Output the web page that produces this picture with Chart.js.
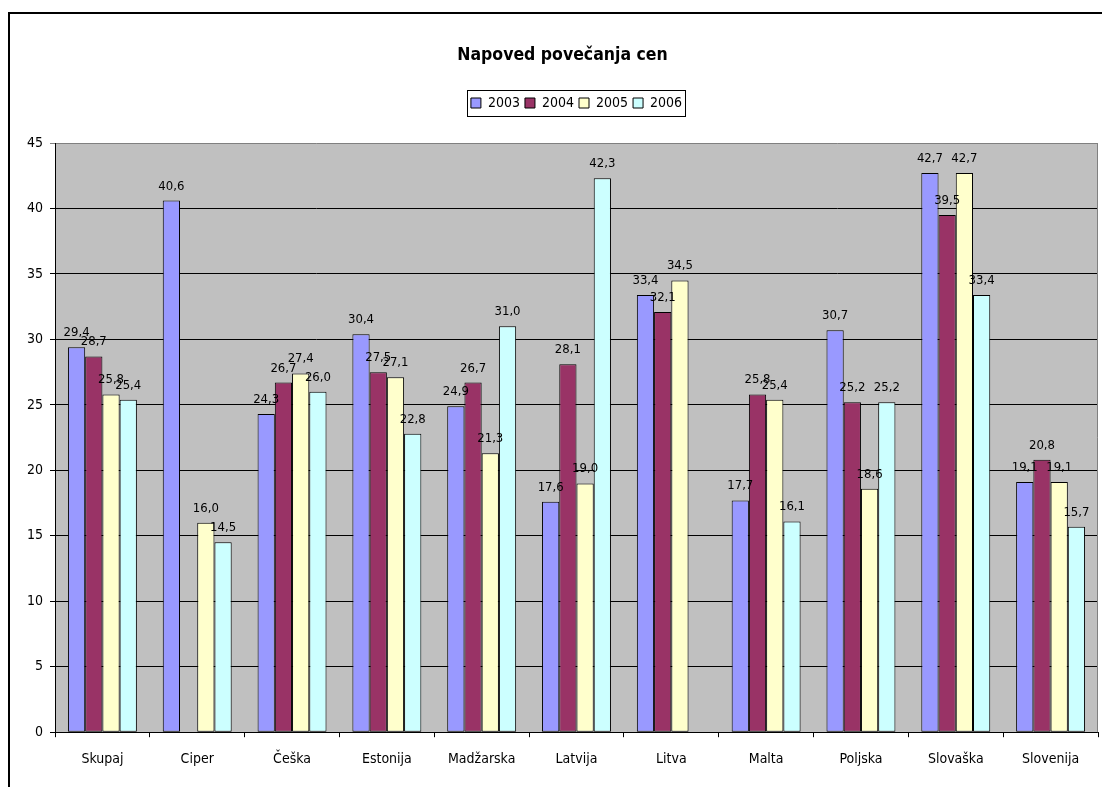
<!DOCTYPE html>
<html><head><meta charset="utf-8">
<script src="https://cdn.jsdelivr.net/npm/chart.js@4.4.1/dist/chart.umd.min.js"></script>
<style>html,body{margin:0;padding:0;background:#fff;overflow:hidden}#wrap{width:1102px;height:787px;position:relative}</style>
</head><body><div id="wrap"><canvas id="c" width="1102" height="787"></canvas></div>
<script>
const categories = ['Skupaj','Ciper','Češka','Estonija','Madžarska','Latvija','Litva','Malta','Poljska','Slovaška','Slovenija'];
const seriesNames = ['2003','2004','2005','2006'];
const values2003 = [29.4, 40.6, 24.3, 30.4, 24.9, 17.6, 33.4, 17.7, 30.7, 42.7, 19.1];
const values2004 = [28.7, null, 26.7, 27.5, 26.7, 28.1, 32.1, 25.8, 25.2, 39.5, 20.8];
const values2005 = [25.8, 16.0, 27.4, 27.1, 21.3, 19.0, 34.5, 25.4, 18.6, 42.7, 19.1];
const values2006 = [25.4, 14.5, 26.0, 22.8, 31.0, 42.3, null, 16.1, 25.2, 33.4, 15.7];
const yTickLabels = ['0','5','10','15','20','25','30','35','40','45'];
const titleText = 'Napoved povečanja cen';

const seriesValues = [values2003, values2004, values2005, values2006];
const seriesColors = ['#9999FF', '#993366', '#FFFFCC', '#CCFFFF'];
const FAMILY = '"DejaVu Sans Condensed", "DejaVu Sans", sans-serif';

const bgPlugin = {
  id: 'bgPlugin',
  beforeDraw(chart) {
    const ctx = chart.ctx, a = chart.chartArea;
    ctx.save();
    ctx.fillStyle = '#fff';
    ctx.fillRect(0, 0, chart.width, chart.height);
    ctx.fillStyle = '#000';
    ctx.fillRect(8, 12, 2, chart.height);
    ctx.fillRect(8, 12, chart.width, 2);
    ctx.fillStyle = '#C0C0C0';
    ctx.fillRect(a.left, a.top, a.right - a.left, a.bottom - a.top);
    ctx.restore();
  },
  beforeDatasetsDraw(chart) {
    const ctx = chart.ctx, a = chart.chartArea;
    ctx.save();
    ctx.strokeStyle = '#808080';
    ctx.lineWidth = 1;
    ctx.beginPath();
    ctx.moveTo(a.right - 0.5, a.top);
    ctx.lineTo(a.right - 0.5, a.bottom);
    ctx.stroke();
    ctx.restore();
  },
  afterDatasetsDraw(chart) {
    const ctx = chart.ctx;
    ctx.save();
    ctx.font = '13px ' + FAMILY;
    ctx.fillStyle = '#000';
    ctx.textAlign = 'center';
    ctx.textBaseline = 'alphabetic';
    chart.data.datasets.forEach((ds, i) => {
      const meta = chart.getDatasetMeta(i);
      meta.data.forEach((el, j) => {
        const v = ds.data[j];
        if (v === null || v === undefined) return;
        ctx.fillText(v.toFixed(1).replace('.', ','), el.x, el.y - 11);
      });
    });
    ctx.restore();
  },
  afterDraw(chart) {
    const lg = chart.legend;
    if (!lg || !lg.legendHitBoxes || !lg.legendHitBoxes.length) return;
    const hb = lg.legendHitBoxes;
    let l = Infinity, r = -Infinity, t = Infinity, b = -Infinity;
    hb.forEach(h => { l = Math.min(l, h.left); r = Math.max(r, h.left + h.width); t = Math.min(t, h.top); b = Math.max(b, h.top + h.height); });
    const ctx = chart.ctx;
    ctx.save();
    ctx.strokeStyle = '#000';
    ctx.lineWidth = 1;
    ctx.strokeRect(Math.round(l - 4) + 0.5, Math.round(t - 6) + 0.5, Math.round(r - l + 7), Math.round(b - t + 12));
    ctx.restore();
  }
};

new Chart(document.getElementById('c'), {
  type: 'bar',
  data: {
    labels: categories,
    datasets: seriesNames.map((n, i) => ({
      label: n,
      data: seriesValues[i],
      backgroundColor: seriesColors[i],
      borderColor: '#000',
      borderWidth: 1,
      borderSkipped: false,
      categoryPercentage: 0.727,
      barPercentage: 1.0
    }))
  },
  options: {
    responsive: false,
    animation: false,
    devicePixelRatio: 1,
    layout: { padding: { top: 0, left: 27, right: 4, bottom: 5 } },
    plugins: {
      tooltip: { enabled: false },
      title: {
        display: true,
        text: titleText,
        color: '#000',
        font: { family: FAMILY, size: 17.5, weight: 'bold', lineHeight: 1.2 },
        padding: { top: 45, bottom: 25 }
      },
      legend: {
        display: true,
        position: 'top',
        fullSize: false,
        labels: {
          color: '#000',
          font: { family: FAMILY, size: 14 },
          boxWidth: 10,
          boxHeight: 10,
          padding: 5
        }
      },
      subtitle: {
        display: true,
        text: '',
        weight: 500,
        font: { size: 1, lineHeight: 1 },
        padding: { top: 22, bottom: 0 }
      }
    },
    scales: {
      x: {
        grid: { display: true, drawOnChartArea: false, drawTicks: true, tickLength: 5, color: '#000', offset: true },
        border: { display: true, color: '#000', width: 1 },
        ticks: { color: '#000', font: { family: FAMILY, size: 14 }, padding: 14, maxRotation: 0, autoSkip: false }
      },
      y: {
        min: 0, max: 45,
        afterFit(scale) { scale.width = 28; },
        afterBuildTicks(scale) { scale.ticks = yTickLabels.map(t => ({ value: Number(t) })); },
        grid: {
          color: ctx => (ctx.tick && ctx.tick.value === 45) ? '#808080' : '#000',
          lineWidth: 1, drawTicks: true, tickLength: 5
        },
        border: { display: true, color: '#000', width: 1 },
        ticks: { color: '#000', font: { family: FAMILY, size: 14 }, padding: 7, stepSize: 5 }
      }
    }
  },
  plugins: [bgPlugin]
});
</script>
</body></html>
